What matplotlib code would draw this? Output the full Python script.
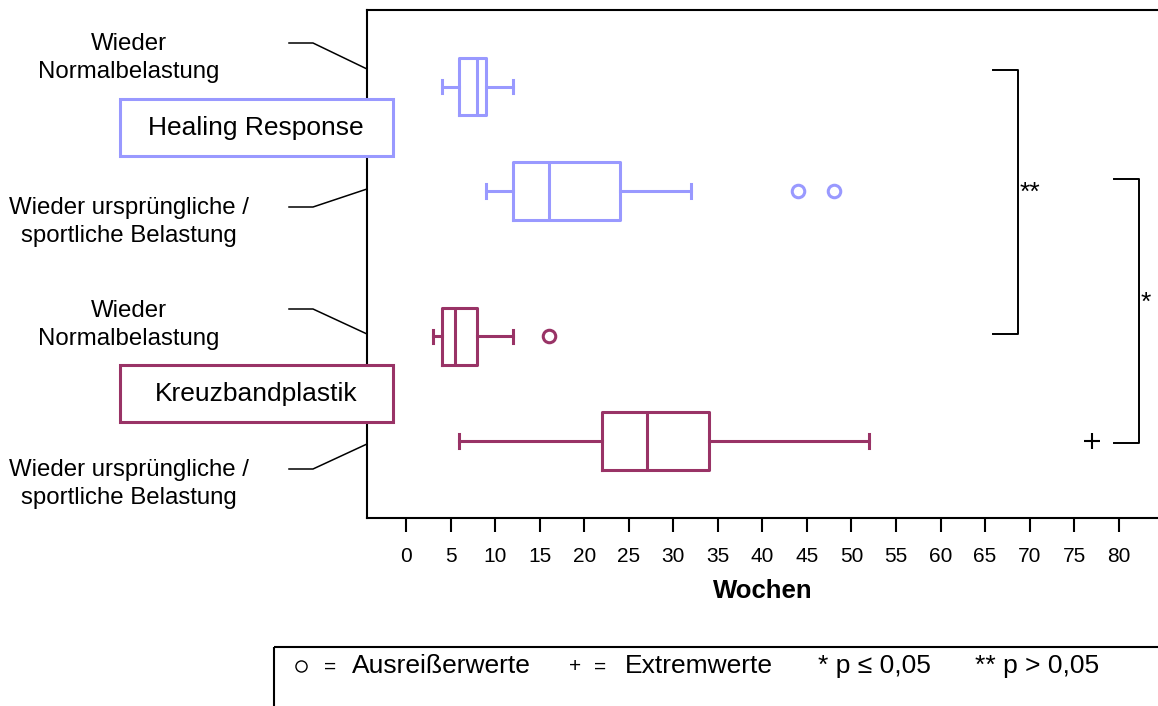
import matplotlib
matplotlib.use('Agg')
import matplotlib.pyplot as plt
from matplotlib.patches import Rectangle

plt.rcParams['font.family'] = ['Liberation Sans', 'DejaVu Sans']

# weeks until return to load, four groups (top to bottom)
groups = ['HR Normalbelastung', 'HR sportliche Belastung',
          'KB Normalbelastung', 'KB sportliche Belastung']
positions = [3.39, 2.39, 1.0, 0.0]
whis_lo = [4, 9, 3, 6]
q1 = [6, 12, 4, 22]
median = [8, 16, 5.5, 27]
q3 = [9, 24, 8, 34]
whis_hi = [12, 32, 12, 52]
outliers = [[], [44, 48], [16], []]
extremes = [[], [], [], [77]]
colors = ['#9999FF', '#9999FF', '#993366', '#993366']

xticks = list(range(0, 81, 5))

W, H = 1158, 706
fig = plt.figure(figsize=(W / 100, H / 100), dpi=100)
ax = fig.add_axes([367 / W, 1 - 518 / H, 791 / W, 508 / H])

for i in range(len(groups)):
    c = colors[i]
    stats = [dict(whislo=whis_lo[i], q1=q1[i], med=median[i], q3=q3[i],
                  whishi=whis_hi[i], fliers=outliers[i])]
    ax.bxp(stats, positions=[positions[i]], widths=0.55, capwidths=0.13,
           orientation='horizontal', showfliers=True,
           boxprops=dict(color=c, linewidth=2.2),
           medianprops=dict(color=c, linewidth=2.2),
           whiskerprops=dict(color=c, linewidth=2.2),
           capprops=dict(color=c, linewidth=2.2),
           flierprops=dict(marker='o', markerfacecolor='white',
                           markeredgecolor=c, markersize=9,
                           markeredgewidth=2.2))
    for e in extremes[i]:
        ax.plot(e, positions[i], marker='+', color='black', markersize=11.5,
                markeredgewidth=1.5, clip_on=False)

ax.set_xlim(-4.38, 84.41)
ax.set_ylim(-0.737, 4.124)
ax.set_xticks(xticks)
ax.set_xticklabels([str(t) for t in xticks], fontsize=15)
ax.set_yticks([])
ax.tick_params(axis='x', direction='out', length=10, width=1.5, pad=11)
ax.spines['right'].set_visible(False)
for s in ['left', 'top', 'bottom']:
    ax.spines[s].set_linewidth(1.5)
ax.set_xlabel('Wochen', fontsize=18.5, fontweight='bold', labelpad=9)

# annotation layer in pixel units
ov = fig.add_axes([0, 0, 1, 1])
ov.set_xlim(0, W)
ov.set_ylim(H, 0)
ov.axis('off')
ov.patch.set_alpha(0)

label_norm = 'Wieder\nNormalbelastung'
label_sport = 'Wieder ursprüngliche /\nsportliche Belastung'
for ytxt, txt, leader in [
        (58, label_norm, [(289, 43), (313, 43), (367, 69)]),
        (222, label_sport, [(289, 207), (313, 207), (367, 189)]),
        (325, label_norm, [(289, 309), (313, 309), (367, 334)]),
        (484, label_sport, [(289, 469), (313, 469), (367, 444)])]:
    ov.text(129, ytxt, txt, fontsize=17.3, ha='center', va='center',
            multialignment='center', linespacing=1.4)
    ov.plot([p[0] for p in leader], [p[1] for p in leader], color='black',
            lw=1.1)

for y0, name, c in [(99, 'Healing Response', '#9999FF'),
                    (365, 'Kreuzbandplastik', '#993366')]:
    ov.add_patch(Rectangle((120, y0), 273, 57, facecolor='white',
                           edgecolor=c, lw=2.2, zorder=3))
    ov.text(256, y0 + 29, name, fontsize=19, ha='center', va='center',
            zorder=4)

# significance brackets
ov.plot([993, 1018, 1018, 993], [70, 70, 334, 334], color='black', lw=1.4)
ov.text(1020, 193, '**', fontsize=19, ha='left', va='center')
ov.plot([1114, 1139, 1139, 1114], [179, 179, 443, 443], color='black', lw=1.4)
ov.text(1141, 303, '*', fontsize=19, ha='left', va='center')

# key box at the bottom
ov.add_patch(Rectangle((274, 647), 900, 80, facecolor='none',
                       edgecolor='black', lw=1.5, clip_on=False))
ov.plot(301, 666, marker='o', markersize=8, markerfacecolor='none',
        markeredgecolor='black', markeredgewidth=1)
ov.text(330, 667, '=', fontsize=15, ha='center', va='center')
ov.text(352, 666, 'Ausreißerwerte', fontsize=19, ha='left', va='center')
ov.text(575, 667, '+', fontsize=15, ha='center', va='center')
ov.text(600, 667, '=', fontsize=15, ha='center', va='center')
ov.text(625, 666, 'Extremwerte', fontsize=19, ha='left', va='center')
ov.text(818, 666, '* p ≤ 0,05', fontsize=19, ha='left', va='center')
ov.text(975, 666, '** p > 0,05', fontsize=19, ha='left', va='center')

fig.savefig('out.png', dpi=100)
